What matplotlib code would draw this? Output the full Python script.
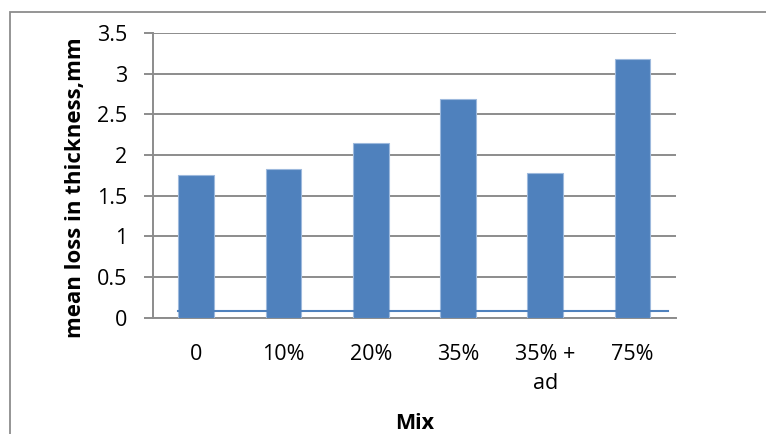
import matplotlib
matplotlib.use("Agg")
import matplotlib.pyplot as plt
from matplotlib.patches import Rectangle

# Mean loss in thickness for each mix
mixes = ["0", "10%", "20%", "35%", "35% +\nad", "75%"]
mean_loss = [1.75, 1.83, 2.15, 2.69, 1.78, 3.18]

# Baseline series drawn as a thin line across the chart
baseline_x = [-0.21, 5.41]
baseline_y = [0.08, 0.08]

y_ticks = [0, 0.5, 1, 1.5, 2, 2.5, 3, 3.5]
y_tick_labels = ["0", "0.5", "1", "1.5", "2", "2.5", "3", "3.5"]

plt.rcParams["font.family"] = ["Open Sans", "DejaVu Sans"]
FS = 15.5

fig = plt.figure(figsize=(7.66, 4.34), dpi=100)
ax = fig.add_axes([0.1993, 0.268, 0.6832, 0.656])

# Outer chart frame
fig.patches.append(Rectangle((9.5 / 766, -0.1), 1.2, 1.1 - 12 / 434,
                             transform=fig.transFigure, fill=False,
                             edgecolor="#8c8c8c", linewidth=1.3))

x = list(range(len(mixes)))
ax.bar(x, mean_loss, width=0.41, color="#4F81BD", edgecolor="#9DB9DD",
       linewidth=0.8, zorder=3)
ax.plot(baseline_x, baseline_y, color="#4F81BD", linewidth=1.5, zorder=4)

ax.set_xlim(-0.5, 5.5)
ax.set_ylim(0, 3.5)
ax.set_yticks(y_ticks)
ax.set_yticklabels(y_tick_labels)
ax.set_xticks(x)
ax.set_xticklabels(mixes, linespacing=1.5, va="top")

ax.grid(axis="y", color="#8c8c8c", linewidth=1.4, zorder=0)
ax.set_axisbelow(True)

for side in ("top", "right"):
    ax.spines[side].set_visible(False)
ax.spines["left"].set_color("#8c8c8c")
ax.spines["left"].set_linewidth(1.4)
ax.spines["bottom"].set_color("#8c8c8c")
ax.spines["bottom"].set_linewidth(1.4)

ax.tick_params(axis="y", length=6.3, width=1.4, color="#8c8c8c",
               labelsize=FS, pad=12.3)
ax.tick_params(axis="x", length=0, labelsize=FS, pad=19)

ax.set_ylabel("mean loss in thickness,mm", fontsize=16, fontweight="bold")
ax.yaxis.set_label_coords(-0.128, 0.455)
ax.set_xlabel("Mix", fontsize=FS, fontweight="bold")
ax.xaxis.set_label_coords(0.5, -0.336)

fig.savefig("out.png", dpi=100)
